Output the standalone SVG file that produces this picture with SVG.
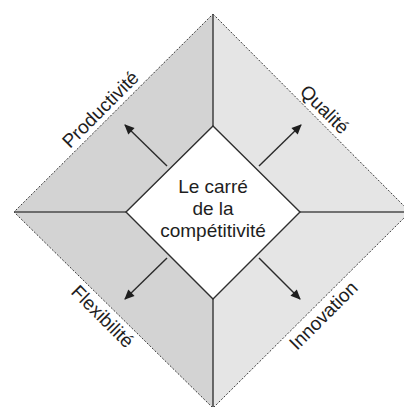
<svg xmlns="http://www.w3.org/2000/svg" width="404" height="407" viewBox="0 0 404 407">
  <style>
    .dark { fill: #d3d3d3; }
    .light { fill: #e5e5e5; }
    .rim { fill: none; stroke: #3a3a3a; stroke-width: 1; stroke-dasharray: 2 1.6; }
    .divider { stroke: #4a4a4a; stroke-width: 1.6; fill: none; }
    .core { fill: #ffffff; stroke: #2e2e2e; stroke-width: 1.4; }
    .label { font-family: "Liberation Sans", Arial, sans-serif; font-size: 19px; fill: #1e1e1e; text-anchor: middle; }
    .arrow { stroke: #2a2a2a; stroke-width: 1.4; fill: none; marker-end: url(#head); }
  </style>
  <defs>
    <marker id="head" viewBox="0 0 10 10" refX="9" refY="5" markerUnits="userSpaceOnUse" markerWidth="12" markerHeight="10" orient="auto">
      <path d="M0,0.5 L10,5 L0,9.5 Z" fill="#1e1e1e"/>
    </marker>
  </defs>
  <rect width="404" height="407" fill="#ffffff"/>

  <!-- four sides of the square -->
  <g id="productivite">
    <polygon class="dark" points="213,14 213,126 126,212 14,212"/>
    <text class="label" transform="translate(105,114) rotate(-45)">Productivité</text>
  </g>
  <g id="qualite">
    <polygon class="light" points="213,14 410,212 300,212 213,126"/>
    <text class="label" transform="translate(320,114) rotate(45)">Qualité</text>
  </g>
  <g id="flexibilite">
    <polygon class="dark" points="14,212 126,212 213,299 213,408"/>
    <text class="label" transform="translate(98,321) rotate(45)">Flexibilité</text>
  </g>
  <g id="innovation">
    <polygon class="light" points="300,212 410,212 213,408 213,299"/>
    <text class="label" transform="translate(328,320) rotate(-45)">Innovation</text>
  </g>

  <!-- outer dashed rim and dividing lines -->
  <polygon class="rim" points="213,14 410,212 213,408 14,212"/>
  <g class="divider">
    <line x1="213" y1="14" x2="213" y2="126"/>
    <line x1="14" y1="212" x2="126" y2="212"/>
    <line x1="300" y1="212" x2="410" y2="212"/>
    <line x1="213" y1="299" x2="213" y2="408"/>
  </g>

  <!-- centre -->
  <g id="carre">
    <polygon class="core" points="213,126 300,212 213,299 126,212"/>
    <text class="label" x="213" y="193">Le carré</text>
    <text class="label" x="213" y="215">de la</text>
    <text class="label" x="213" y="237">compétitivité</text>
  </g>

  <!-- arrows -->
  <g id="connectors">
    <line class="arrow" x1="167" y1="166" x2="125" y2="125"/>
    <line class="arrow" x1="259" y1="166" x2="301" y2="125"/>
    <line class="arrow" x1="167" y1="258" x2="125" y2="299"/>
    <line class="arrow" x1="259" y1="258" x2="300" y2="299"/>
  </g>
</svg>
